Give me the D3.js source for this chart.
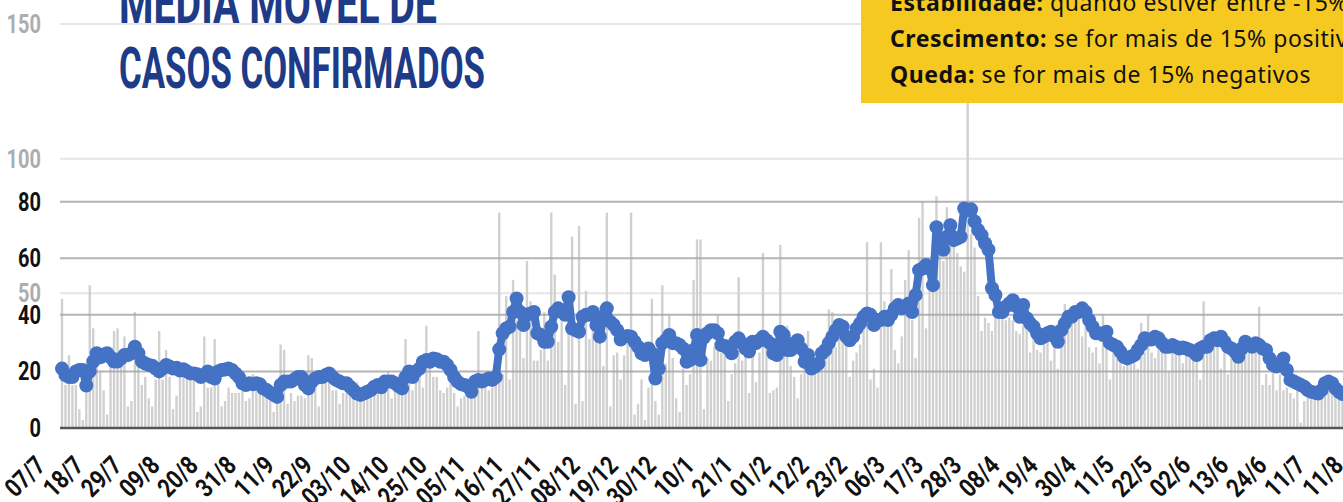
<!DOCTYPE html>
<html>
<head>
<meta charset="utf-8">
<script src="https://cdn.jsdelivr.net/npm/d3@7"></script>
<style>
  body { margin: 0; background: #fff; }
  svg { display: block; }
  text { font-family: Roboto, "Noto Sans", sans-serif; }
</style>
</head>
<body>
<script>
// daily confirmed cases, one value per day from 07/7
var dailyCases = [
48,16,27,16,16,7,3,20,53,37,28,21,14,5,26,36,37,23,34,8,10,43,28,16,19,11,8,18,36,18,
29,19,7,12,19,20,19,18,18,6,8,34,15,15,33,17,8,10,15,13,13,13,14,10,11,20,18,16,13,12,
10,6,9,31,29,9,13,10,12,12,11,27,26,18,8,17,18,17,14,14,9,13,13,12,13,17,14,15,15,16,
15,15,13,13,21,11,17,18,13,33,20,14,18,20,15,38,23,19,19,14,13,15,18,13,8,11,12,13,14,15,
36,17,18,14,15,23,80,20,49,18,55,40,36,26,62,47,25,25,29,43,25,80,57,32,43,16,35,71,9,75,
10,51,33,38,34,45,23,80,8,27,28,18,27,32,80,5,9,18,3,15,48,10,5,53,24,42,26,11,6,22,
16,20,55,70,70,7,26,25,30,42,28,28,10,20,24,56,25,30,13,30,17,28,65,33,13,14,15,68,27,38,
23,19,11,20,24,36,21,23,26,30,34,44,43,30,34,33,38,19,25,28,31,37,69,18,22,15,69,47,38,59,
29,24,34,55,66,40,26,78,84,37,51,62,86,73,62,82,78,70,65,60,58,140,72,67,49,36,41,39,36,44,
47,43,40,41,40,36,35,38,41,28,41,29,28,34,34,25,34,22,34,46,44,40,39,44,34,40,30,28,30,24,
42,31,18,30,30,28,23,28,25,25,22,39,28,42,28,26,30,31,31,21,30,31,31,24,30,30,30,25,18,47,
31,30,36,31,22,34,20,29,30,28,31,30,30,33,31,45,16,20,16,23,14,20,14,15,13,11,15,2,10,13,
12,12,13,12,13,15,13,13,13,13
];

// moving average of confirmed cases
var movingAvg = [
21,18.7,18,18,20,20.5,20.5,15,20,23.5,26.4,25,26,26.4,25,23.5,23.5,24.6,25.8,25.8,
26.4,28.7,26.4,23.5,22.8,22.3,22,21,20,21,22.3,21.7,21,21.3,20.3,20.8,20,19.3,19.3,19,
18,18.7,20,18,17.5,20,20.5,20.7,21,20.5,19.3,18,15.8,15.2,15.8,15.5,15.8,15.5,14,13.4,
12.5,11.7,11,15.2,16.4,16.4,16.4,17.2,18,18,15.2,14,16.4,17.5,18,18,18.7,19.3,18,17,
16.4,15.8,15.8,14.6,13.4,12.2,11.7,12.2,12.8,13.4,14.6,15.2,14.4,16.4,16.4,16.4,15.8,14.8,14,18,
20,18,20,21,23.4,24,23.4,24.6,24.3,23.4,23.4,22.3,20.5,18,16.4,15.5,15.2,14.6,12.8,16.4,
17,16.4,17,17.5,17,18,27.8,33.5,35.2,35.8,41,45.8,41,36.4,40,40.5,41,33.5,32.9,30.5,
30.5,35.8,41,42.3,41,40,46.2,35.2,34.6,34,39.3,40,40,41,36.4,32.3,39.3,42.3,37.6,36.4,
34.6,31.3,32.3,32.5,32.3,30.5,28.7,26.4,25.8,28.1,26.4,17.5,21,30,31,32.9,30,30,29.3,28.1,
23.4,24,27.6,32.9,24,32,33.5,34.6,34.6,33.5,29.3,29,28.1,26.4,30.5,31.7,30,28.1,27,30.5,
30,31,32.3,31,30,26.4,25.8,34,32.9,27.6,27.6,30,31,28.1,23.4,25.8,21,21.7,22.8,26.4,
27.6,30,32.3,34.6,36.4,35.8,32.3,31,32.3,35.2,37,39.3,40.5,40,36.4,38.2,38.2,39.3,38.2,40,
42.3,43.5,42.3,42.9,44,41,47,55.8,56.4,57.6,56.4,50.5,71,67,63,67.6,71.7,66.4,67,67.6,
77.6,77,77.3,73,70,68.2,65.3,63,49.4,47,41,41,42.9,44,45.2,43,39.3,43.5,38.8,37,
35.8,33.5,31.7,32.3,33.5,34,32.3,30.5,34.6,37,39.3,39.3,41,41,42.3,41,38.2,35.8,33.5,33.5,
32.9,34,30,29.3,28.7,27,25.2,24.6,25.2,25.8,27.6,29.3,31.7,31.3,31.3,32.3,31.7,30,28.7,28.7,
29.3,28.7,28.1,28.5,28.1,27.6,27,25.8,28.1,28.7,28.7,31,31.7,31,32.3,30.5,28.7,28.1,27,25.2,
28.1,30.5,29.3,28.7,30,29.3,28.1,27.6,24.6,22.3,21.7,22.8,24.6,20.5,17,16.4,15.8,15.2,14.6,13.4,
12.8,12.5,12.2,13.4,15.8,16.4,15.8,14,12.8,12
];

var tickLabels = ["07/7","18/7","29/7","09/8","20/8","31/8","11/9","22/9","03/10","14/10",
  "25/10","05/11","16/11","27/11","08/12","19/12","30/12","10/1","21/1","01/2","12/2","23/2",
  "06/3","17/3","28/3","08/4","19/4","30/4","11/5","22/5","02/6","13/6","24/6","11/7","11/8"];
var tickEvery = 11;

var avgTicks = [0,20,40,60,80];
var barTicks = [50,100,150];

var titleLines = ["MÉDIA MÓVEL DE","CASOS CONFIRMADOS"];
var legendLines = [
  ["Estabilidade:"," quando estiver entre -15% e +15%"],
  ["Crescimento:"," se for mais de 15% positivos"],
  ["Queda:"," se for mais de 15% negativos"]
];

var W = 1343, H = 502;
var step = 3.47;
var nDays = tickLabels.length*tickEvery;

var svg = d3.select("body").append("svg").attr("width",W).attr("height",H);

var x = d3.scaleBand().domain(d3.range(nDays))
  .range([62-step/2, 62-step/2+nDays*step])
  .paddingInner(0.32).paddingOuter(0.16);
function cx(i){ return x(i)+x.bandwidth()/2 }

var yBar = d3.scaleLinear().domain([0,150]).range([428,24]);
var yAvg = d3.scaleLinear().domain([0,80]).range([428,201.7]);

// light gridlines for the bar axis
svg.append("g").selectAll("line").data(barTicks).enter().append("line")
  .attr("x1",60).attr("x2",W).attr("y1",d=>yBar(d)).attr("y2",d=>yBar(d))
  .style("stroke","#e6e6e6").style("stroke-width",2);

svg.append("g").selectAll("rect").data(dailyCases).enter().append("rect")
  .attr("x",(d,i)=>x(i)).attr("width",x.bandwidth())
  .attr("y",d=>yBar(d)).attr("height",d=>yBar(0)-yBar(d))
  .style("fill","#d0d0d0");

// darker gridlines for the average axis
svg.append("g").selectAll("line").data(avgTicks.filter(d=>d>0)).enter().append("line")
  .attr("x1",60).attr("x2",W).attr("y1",d=>yAvg(d)).attr("y2",d=>yAvg(d))
  .style("stroke","#a8a8a8").style("stroke-width",2).style("opacity",0.85);

svg.append("line").attr("x1",60).attr("x2",W).attr("y1",yAvg(0)).attr("y2",yAvg(0))
  .style("stroke","#555").style("stroke-width",2.5);

var line = d3.line().x((d,i)=>cx(i)).y(d=>yAvg(d));
svg.append("path").datum(movingAvg).attr("d",line)
  .style("fill","none").style("stroke","#4472c4").style("stroke-width",8)
  .style("stroke-linejoin","round");
svg.append("g").selectAll("circle").data(movingAvg).enter().append("circle")
  .attr("cx",(d,i)=>cx(i)).attr("cy",d=>yAvg(d)).attr("r",7)
  .style("fill","#4472c4");

// y labels
svg.append("g").selectAll("text").data(barTicks).enter().append("text")
  .attr("transform",d=>"translate(41,"+(yBar(d)+9)+") scale(0.8,1)")
  .attr("text-anchor","end").style("font-size","25px").style("font-weight","bold")
  .style("fill","#adadad").text(d=>d);
svg.append("g").selectAll("text").data(avgTicks).enter().append("text")
  .attr("transform",d=>"translate(41,"+(yAvg(d)+9)+") scale(0.8,1)")
  .attr("text-anchor","end").style("font-size","25px").style("font-weight","bold")
  .style("fill","#111").text(d=>d);

// x labels
svg.append("g").selectAll("text").data(tickLabels).enter().append("text")
  .attr("transform",(d,i)=>"translate("+(cx(i*tickEvery)-15)+",467) rotate(-45) scale(0.82,1)")
  .attr("text-anchor","end").style("font-size","26px").style("font-weight","bold")
  .style("fill","#111").text(d=>d);

// title
svg.append("g").selectAll("text").data(titleLines).enter().append("text")
  .attr("x",119).attr("y",(d,i)=>23+i*65)
  .attr("textLength",(d,i)=>i? 366:318).attr("lengthAdjust","spacingAndGlyphs")
  .style("font-size","58px").style("font-weight","bold").style("fill","#1d3b87")
  .text(d=>d);

// legend box
svg.append("rect").attr("x",861).attr("y",-5).attr("width",W-861+5).attr("height",108)
  .style("fill","#f5c91f");
var lt = svg.append("g").selectAll("text").data(legendLines).enter().append("text")
  .attr("x",890).attr("y",(d,i)=>11+i*36)
  .style("font-family","'Noto Sans', sans-serif").style("font-size","23px")
  .style("letter-spacing","0.55px").style("fill","#111");
lt.append("tspan").style("font-weight","bold").text(d=>d[0]);
lt.append("tspan").text(d=>d[1]);
</script>
</body>
</html>
